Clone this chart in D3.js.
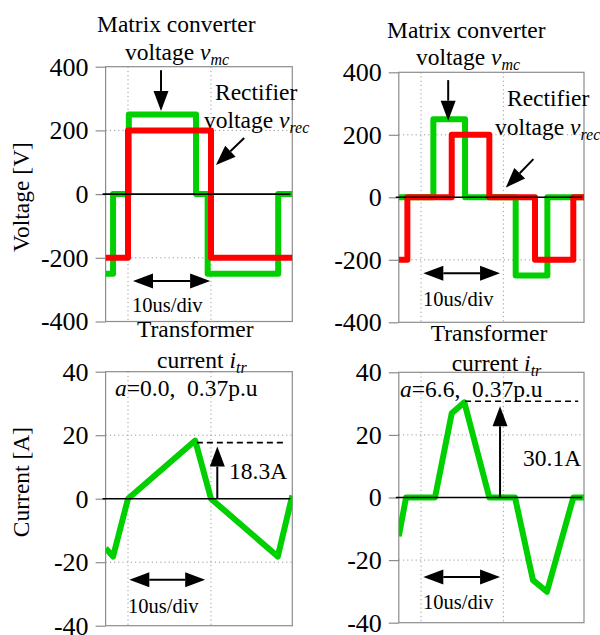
<!DOCTYPE html>
<html>
<head>
    <meta charset="UTF-8">
    <title>Matrix converter waveforms</title>
    <script src="https://d3js.org/d3.v7.min.js"></script>
    <style>
        *{
            padding:0;
            margin:0;
        }
        body{ background:#fff; }
        svg text{
            font-family: "Liberation Serif", "Times New Roman", serif;
            fill:#000;
            white-space: pre;
        }
        .frame{ fill:none; stroke:#8c8c8c; stroke-width:1.2px; }
        .grid{ stroke:#9a9a9a; stroke-width:1px; stroke-dasharray:1.2,3; }
        .zero{ stroke:#000; stroke-width:1.6px; }
        .trace{ fill:none; stroke-width:6px; stroke-linejoin:round; stroke-linecap:butt; }
    </style>
</head>
<body>
    <svg id='main' width="600" height="635"></svg>
    <script>
// time axis in us, gridlines every 10us
const timeDomain = [-2.7, 19.8];
const gridTimes = [0, 10];
const vTicks = [-400, -200, 0, 200, 400];
const iTicks = [-40, -20, 0, 20, 40];
const vGrid = [-200, 200];
const iGrid = [-20, 20];

// step waveforms: [time us, value held from that time]
const vmcA = [[-2.7,-250],[-1.8,0],[0.1,250],[8.2,0],[9.6,-250],[18.1,0],[19.8,0]];
const vrecA = [[-2.7,-200],[0,200],[10,-200],[19.8,-200]];
const vmcB = [[-2.7,0],[1.5,250],[5.35,0],[11.5,-250],[15.35,0],[19.8,0]];
const vrecB = [[-2.7,-200],[-1.66,0],[3.73,200],[8.3,0],[13.85,-200],[18.5,0],[19.8,0]];

// transformer current [time us, A]
const itrA = [[-2.7,-15.6],[-1.8,-18.2],[0,0],[8.1,18.3],[10,0],[18.05,-18.2],[19.8,1]];
const itrB = [[-2.7,-12.4],[-1.82,0],[1.7,0],[3.73,26.9],[5.26,30.4],[8.3,0],[11.42,0],[13.6,-26.4],[15.3,-30.1],[18.5,0],[19.8,0]];

const peakA = 18.3, peakB = 30.1;

const green = "#00d000", red = "#ff0000";
const serif = '"Liberation Serif", "Times New Roman", serif';

const svg = d3.select("#main");

function panel(id, x0, x1, yTop, yBot, yDomain, ticks, grid) {
    const x = d3.scaleLinear().domain(timeDomain).range([x0, x1]);
    const y = d3.scaleLinear().domain(yDomain).range([yBot, yTop]);
    const g = svg.append("g");

    svg.append("clipPath").attr("id", "clip" + id)
        .append("rect").attr("x", x0).attr("y", yTop)
        .attr("width", x1 - x0).attr("height", yBot - yTop);

    g.selectAll(".hg").data(grid).enter().append("line")
        .attr("class", "grid")
        .attr("x1", x0).attr("x2", x1)
        .attr("y1", d => y(d)).attr("y2", d => y(d));
    g.selectAll(".vg").data(gridTimes).enter().append("line")
        .attr("class", "grid")
        .attr("x1", d => x(d)).attr("x2", d => x(d))
        .attr("y1", yTop).attr("y2", yBot);

    g.append("rect").attr("class", "frame")
        .attr("x", x0).attr("y", yTop)
        .attr("width", x1 - x0).attr("height", yBot - yTop);

    const ax = g.append("g")
        .attr("transform", `translate(${x0},0)`)
        .call(d3.axisLeft(y).tickValues(ticks).tickSize(10).tickPadding(7).tickFormat(d => String(d)));
    ax.attr("font-family", serif).attr("font-size", 26);
    ax.select(".domain").remove();
    ax.selectAll(".tick line").attr("stroke", "#8c8c8c").attr("stroke-width", 1.2);
    ax.selectAll(".tick text")
        .attr("font-family", serif)
        .style("font-family", serif)
        .style("font-size", "26px")
        .attr("fill", "#000");

    const traces = g.append("g").attr("clip-path", `url(#clip${id})`);
    return { x, y, g, traces, x0, x1, yTop, yBot };
}

function drawTrace(p, data, color, curve) {
    const line = d3.line().x(d => p.x(d[0])).y(d => p.y(d[1])).curve(curve);
    p.traces.append("path").datum(data)
        .attr("class", "trace")
        .attr("stroke", color)
        .attr("d", line);
}

function zeroLine(p) {
    p.g.append("line").attr("class", "zero")
        .attr("x1", p.x0 - 3).attr("x2", p.x1 - 2)
        .attr("y1", p.y(0)).attr("y2", p.y(0));
}

// arrow from (x1,y1) to tip (x2,y2), pixel coords
function arrow(g, x1, y1, x2, y2, len, wid, both) {
    const a = Math.atan2(y2 - y1, x2 - x1);
    const head = (tx, ty, ang) => {
        const bx = tx - len * Math.cos(ang), by = ty - len * Math.sin(ang);
        const px = -Math.sin(ang) * wid / 2, py = Math.cos(ang) * wid / 2;
        g.append("path")
            .attr("d", `M${tx},${ty}L${bx + px},${by + py}L${bx - px},${by - py}Z`)
            .attr("fill", "#000");
        return [bx, by];
    };
    const e = head(x2, y2, a);
    const s = both ? head(x1, y1, a + Math.PI) : [x1, y1];
    g.append("line")
        .attr("x1", s[0]).attr("y1", s[1]).attr("x2", e[0]).attr("y2", e[1])
        .attr("stroke", "#000").attr("stroke-width", 2);
}

function label(x, y, parts, size) {
    const t = svg.append("text").attr("x", x).attr("y", y).style("font-size", (size || 23.5) + "px");
    parts.forEach(p => {
        const s = t.append("tspan").text(p.t);
        if (p.i) s.style("font-style", "italic");
        if (p.sub) s.style("font-size", "16px").attr("dy", 5);
    });
    return t;
}

const vmcLabel = [{t: "voltage "}, {t: "v", i: 1}, {t: "mc", i: 1, sub: 1}];
const vrecLabel = [{t: "voltage "}, {t: "v", i: 1}, {t: "rec", i: 1, sub: 1}];
const itrLabel = [{t: "current "}, {t: "i", i: 1}, {t: "tr", i: 1, sub: 1}];

// ---- top left: a = 0.0
const p1 = panel("1", 105.6, 292.3, 66.7, 321.5, [-400, 400], vTicks, vGrid);
drawTrace(p1, vmcA, green, d3.curveStepAfter);
drawTrace(p1, vrecA, red, d3.curveStepAfter);
zeroLine(p1);
label(97, 31.7, [{t: "Matrix converter"}]);
label(125, 60, vmcLabel);
label(215, 100, [{t: "Rectifier"}]);
label(204, 128, vrecLabel);
arrow(p1.g, p1.x(3.98), p1.y(389), p1.x(3.98), p1.y(261), 20, 15);
arrow(p1.g, p1.x(14), p1.y(176), p1.x(10.6), p1.y(91), 20, 15);
arrow(p1.g, p1.x(0.6), p1.y(-273), p1.x(9.9), p1.y(-273), 20, 15, true);
label(132, 311.7, [{t: "10us/div"}], 20.5);

// ---- top right: a = 6.6
const p2 = panel("2", 398.8, 584, 72.3, 322.3, [-400, 400], vTicks, vGrid);
drawTrace(p2, vmcB, green, d3.curveStepAfter);
drawTrace(p2, vrecB, red, d3.curveStepAfter);
zeroLine(p2);
label(387, 37.7, [{t: "Matrix converter"}]);
label(416, 65, vmcLabel);
label(507, 106, [{t: "Rectifier"}]);
label(495, 135, vrecLabel);
arrow(p2.g, p2.x(3.3), p2.y(375), p2.x(3.3), p2.y(245), 20, 15);
arrow(p2.g, p2.x(13.65), p2.y(122), p2.x(10.3), p2.y(31), 20, 15);
arrow(p2.g, p2.x(0.28), p2.y(-243), p2.x(9.6), p2.y(-243), 20, 15, true);
label(423, 306, [{t: "10us/div"}], 20.5);

// ---- bottom left
const p3 = panel("3", 105.6, 292.3, 371.7, 625.7, [-40, 40], iTicks, iGrid);
drawTrace(p3, itrA, green, d3.curveLinear);
zeroLine(p3);
label(137, 337.3, [{t: "Transformer"}]);
label(157, 368.3, itrLabel);
label(115, 396, [{t: "a", i: 1}, {t: "=0.0,  0.37p.u"}]);
p3.g.append("line")
    .attr("x1", p3.x(8.3)).attr("x2", p3.x(19.1))
    .attr("y1", p3.y(peakA) + 2).attr("y2", p3.y(peakA) + 2)
    .attr("stroke", "#000").attr("stroke-width", 1.6).attr("stroke-dasharray", "6,4");
arrow(p3.g, p3.x(10.76), p3.y(0), p3.x(10.76), p3.y(peakA) + 6, 20, 15);
label(229, 479.3, [{t: peakA + "A"}]);
arrow(p3.g, p3.x(0.16), p3.y(-25.5), p3.x(9.3), p3.y(-25.5), 20, 15, true);
label(128, 612.7, [{t: "10us/div"}], 20.5);

// ---- bottom right
const p4 = panel("4", 398.8, 584, 372.3, 622.7, [-40, 40], iTicks, iGrid);
drawTrace(p4, itrB, green, d3.curveLinear);
zeroLine(p4);
label(430.7, 340.7, [{t: "Transformer"}]);
label(451.7, 370.7, itrLabel);
label(400, 396.7, [{t: "a", i: 1}, {t: "=6.6,  0.37p.u"}]);
p4.g.append("line")
    .attr("x1", p4.x(5.35)).attr("x2", p4.x(19.1))
    .attr("y1", p4.y(peakB) - 2).attr("y2", p4.y(peakB) - 2)
    .attr("stroke", "#000").attr("stroke-width", 1.6).attr("stroke-dasharray", "6,4");
arrow(p4.g, p4.x(9.6), p4.y(0), p4.x(9.6), p4.y(peakB) + 3, 20, 15);
label(523, 465.7, [{t: peakB + "A"}]);
arrow(p4.g, p4.x(0.28), p4.y(-25.4), p4.x(9.6), p4.y(-25.4), 20, 15, true);
label(423, 609.3, [{t: "10us/div"}], 20.5);

// y axis titles
svg.append("text").attr("transform", "translate(29,197) rotate(-90)")
    .attr("text-anchor", "middle").style("font-size", "23.5px").text("Voltage [V]");
svg.append("text").attr("transform", "translate(29,482) rotate(-90)")
    .attr("text-anchor", "middle").style("font-size", "23.5px").text("Current [A]");
    </script>
</body>
</html>
